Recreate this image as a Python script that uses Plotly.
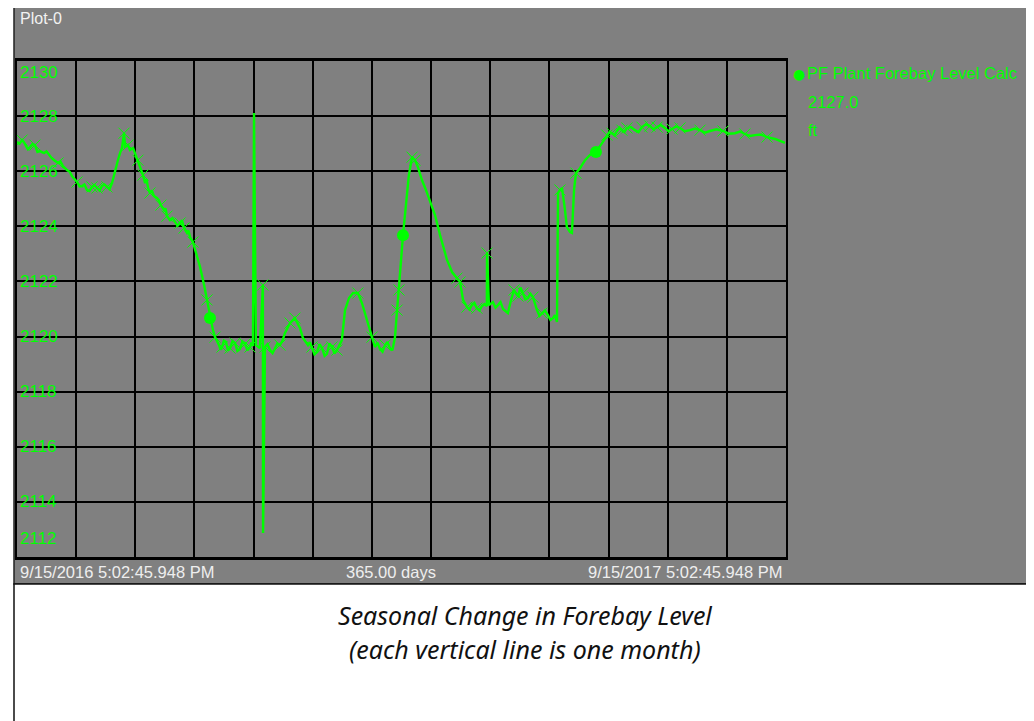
import plotly.graph_objects as go

# ---------------- data ----------------
days = [0.0, 2.4, 4.3, 6.2, 8.5, 10.9, 12.8, 15.2, 17.6, 19.5, 21.8, 23.7, 26.1, 28.5, 30.9, 33.2,
        35.6, 38.0, 40.3, 42.7, 45.1, 46.5, 47.9, 48.9, 49.8, 50.8, 51.3, 52.7, 53.6, 55.1, 56.0,
        57.4, 58.4, 59.8, 60.8, 62.2, 63.1, 65.0, 66.4, 68.3, 69.8, 71.2, 72.6, 75.0, 77.4, 79.3,
        80.7, 82.1, 83.5, 85.4, 86.9, 88.8, 90.2, 91.6, 93.0, 94.0, 95.9, 97.3, 99.2, 101.1, 103.5,
        105.8, 108.2, 110.6, 112.0, 112.5, 113.4, 115.3, 116.7, 116.8, 117.7, 120.1, 122.5, 124.8,
        127.2, 129.6, 131.9, 134.3, 135.7, 138.1, 140.0, 142.4, 144.8, 147.1, 149.5, 151.9, 154.2,
        155.7, 157.6, 159.5, 161.8, 163.7, 165.2, 167.1, 168.5, 169.9, 172.3, 174.7, 177.0, 179.4,
        180.4, 181.3, 182.3, 183.2, 184.6, 186.0, 187.5, 188.9, 190.3, 192.2, 194.1, 196.0, 198.4,
        200.8, 202.7, 204.1, 206.5, 208.8, 210.3, 211.7, 213.6, 215.9, 218.3, 220.7, 223.0, 223.1,
        224.0, 225.9, 228.3, 230.7, 233.0, 234.5, 235.9, 237.8, 240.2, 242.5, 244.9, 246.8, 249.2,
        252.0, 254.4, 256.3, 256.8, 257.7, 258.7, 260.1, 261.0, 262.5, 263.4, 264.4, 265.3, 267.2,
        269.6, 272.0, 274.8, 277.7, 280.0, 282.4, 284.8, 287.1, 289.5, 293.3, 296.6, 300.4, 303.8,
        307.5, 310.9, 314.7, 319.4, 324.2, 328.9, 335.1, 340.8, 345.5, 350.3, 356.0, 359.8, 364.5]

level_ft = [2127.06, 2127.13, 2126.91, 2126.88, 2126.95, 2126.73, 2126.66, 2126.59, 2126.40, 2126.30,
            2126.19, 2126.04, 2125.82, 2125.61, 2125.46, 2125.32, 2125.43, 2125.39, 2125.46, 2125.43,
            2125.57, 2126.04, 2126.40, 2126.66, 2126.84, 2127.38, 2126.88, 2126.95, 2126.77, 2126.84,
            2126.66, 2126.40, 2126.15, 2125.86, 2125.57, 2125.39, 2125.21, 2125.10, 2125.03, 2124.77,
            2124.59, 2124.37, 2124.23, 2124.16, 2124.12, 2123.94, 2123.76, 2123.61, 2123.43, 2122.96,
            2122.52, 2121.87, 2121.33, 2120.67, 2120.24, 2119.98, 2119.69, 2119.62, 2119.80, 2119.58,
            2119.76, 2119.55, 2119.73, 2119.62, 2119.66, 2128.11, 2119.69, 2119.58, 2121.87, 2112.87,
            2119.62, 2119.51, 2119.58, 2119.69, 2120.13, 2120.49, 2120.67, 2120.31, 2119.95, 2119.69,
            2119.62, 2119.44, 2119.58, 2119.37, 2119.62, 2119.51, 2119.87, 2120.96, 2121.40, 2121.58,
            2121.58, 2121.22, 2120.85, 2120.31, 2119.98, 2119.62, 2119.55, 2119.69, 2119.58, 2119.98,
            2120.96, 2121.69, 2122.78, 2123.68, 2124.77, 2125.86, 2126.51, 2126.40, 2126.15, 2125.68,
            2125.32, 2124.95, 2124.41, 2123.68, 2123.14, 2122.78, 2122.34, 2122.12, 2121.98, 2121.33,
            2121.07, 2121.14, 2121.03, 2121.11, 2121.11, 2123.03, 2121.14, 2121.25, 2121.14, 2121.00,
            2120.85, 2121.33, 2121.69, 2121.47, 2121.58, 2121.40, 2121.43, 2120.96, 2120.85, 2120.78,
            2120.67, 2120.53, 2125.21, 2125.32, 2125.39, 2124.59, 2123.97, 2123.79, 2123.76, 2125.32,
            2125.93, 2126.11, 2126.40, 2126.59, 2126.70, 2127.02, 2127.31, 2127.38, 2127.46, 2127.49,
            2127.57, 2127.49, 2127.60, 2127.64, 2127.60, 2127.57, 2127.53, 2127.57, 2127.49, 2127.49,
            2127.46, 2127.46, 2127.38, 2127.35, 2127.31, 2127.24, 2127.17, 2127.03]

# extra readings of the noisy stretches (between the main readings)
detail_days = [1.2, 3.3, 5.2, 7.3, 9.7, 14.0, 16.4, 20.6, 25.0, 29.7, 32.0, 34.4, 36.8, 39.2, 41.5, 43.9,
               61.5, 64.0, 67.3, 70.5, 73.8, 76.2, 78.3, 81.4,
               96.6, 98.2, 100.1, 102.3, 104.6, 107.0, 109.4, 111.3,
               118.9, 121.3, 123.6, 126.0,
               139.0, 141.2, 143.6, 146.0, 148.3, 150.7, 153.0,
               171.1, 173.5, 175.8, 178.2,
               214.7, 217.1, 219.5, 221.9, 227.1, 229.5, 231.8, 236.9, 239.0, 241.3, 243.7, 245.8,
               248.0, 250.6, 253.2, 255.3,
               281.2, 283.6, 286.0, 288.3, 291.4, 295.0, 298.5, 302.1, 305.6, 309.2, 312.8, 317.0,
               321.8, 326.5, 332.0, 338.0, 343.1, 347.9, 353.1]
detail_level = [2127.00, 2127.05, 2126.80, 2126.98, 2126.70, 2126.72, 2126.48, 2126.36, 2125.98, 2125.45,
                2125.52, 2125.28, 2125.50, 2125.30, 2125.52, 2125.35,
                2125.70, 2125.30, 2124.95, 2124.65, 2124.30, 2124.02, 2124.22, 2123.85,
                2119.52, 2119.85, 2119.49, 2119.84, 2119.48, 2119.82, 2119.50, 2119.78,
                2119.72, 2119.40, 2119.75, 2119.85,
                2119.80, 2119.35, 2119.72, 2119.30, 2119.75, 2119.38, 2119.70,
                2119.78, 2119.45, 2119.80, 2119.50,
                2120.98, 2121.22, 2120.95, 2121.18, 2121.05, 2121.25, 2120.92, 2121.55, 2121.78, 2121.35,
                2121.55, 2121.20, 2120.75, 2120.95, 2120.60, 2120.78,
                2127.42, 2127.30, 2127.58, 2127.42, 2127.60, 2127.42, 2127.70, 2127.52, 2127.68, 2127.45,
                2127.62, 2127.45, 2127.55, 2127.40, 2127.52, 2127.36, 2127.44, 2127.28, 2127.33]

cross_idx = [1, 4, 9, 13, 16, 17, 19, 25, 27, 31, 33, 36, 39, 41, 44, 45, 48, 52, 55, 57, 59, 60, 62,
             63, 68, 70, 73, 75, 76, 80, 82, 84, 85, 90, 94, 97, 100, 101, 106, 107, 117, 118, 120,
             122, 125, 132, 133, 134, 136, 138, 143, 150, 156, 157, 159, 160, 162, 163, 164, 166,
             167, 169, 171, 173, 175]
dot_idx = [53, 103, 154]

y_ticks = [2130, 2128, 2126, 2124, 2122, 2120, 2118, 2116, 2114, 2112]
span_days = 365
n_months = 13
start_label = "9/15/2016 5:02:45.948 PM"
end_label = "9/15/2017 5:02:45.948 PM"
series_name = "PF Plant Forebay Level Calc"
units = "ft"
plot_title = "Plot-0"
caption_lines = ["Seasonal Change in Forebay Level", "(each vertical line is one month)"]

# merge main and detail readings in time order for the trend line
merged = sorted(zip(days + detail_days, level_ft + detail_level), key=lambda p: p[0])
line_days = [p[0] for p in merged]
line_level = [p[1] for p in merged]

# ---------------- styling ----------------
GREEN = "#00ff00"
GRAY = "#808080"
FONT = "Liberation Sans, Arial, sans-serif"

OFF = 8                      # page body margin
W, H = 1034 - OFF, 721 - OFF
L, R, T, B = 17 - OFF, (1034 - 786), 61 - OFF, (721 - 557)
pw, ph = W - L - R, H - T - B


def px_x(page_px):
    return (page_px - OFF - L) / pw


def px_y(page_py):
    return (H - B - (page_py - OFF)) / ph


fig = go.Figure()

fig.add_trace(go.Scatter(
    x=line_days, y=line_level, mode="lines",
    line=dict(color=GREEN, width=2.4),
    showlegend=False, hoverinfo="skip"))

fig.add_trace(go.Scatter(
    x=[days[i] for i in cross_idx], y=[level_ft[i] for i in cross_idx], mode="markers",
    marker=dict(symbol="x-thin-open", size=11, color=GREEN, line=dict(color=GREEN, width=1)),
    showlegend=False, hoverinfo="skip"))

fig.add_trace(go.Scatter(
    x=[days[i] for i in dot_idx], y=[level_ft[i] for i in dot_idx], mode="markers",
    marker=dict(symbol="circle", size=12, color=GREEN),
    showlegend=False, hoverinfo="skip"))

shapes = [
    dict(type="rect", xref="paper", yref="paper", layer="below",
         x0=px_x(14), x1=px_x(1045), y0=px_y(584), y1=px_y(5),
         fillcolor=GRAY, line=dict(color="#222", width=1.5)),
    dict(type="rect", xref="paper", yref="paper", layer="below",
         x0=px_x(14), x1=px_x(1030), y0=px_y(740), y1=px_y(584),
         fillcolor="white", line=dict(color="#111", width=1.5)),
]

annotations = []
annotations.append(dict(text=plot_title, xref="paper", yref="paper", x=px_x(18), y=px_y(19),
                        xanchor="left", yanchor="middle", showarrow=False,
                        font=dict(family=FONT, size=16, color="#f2f2f2")))

for v in y_ticks:
    shift = 0
    if v == max(y_ticks):
        shift = -11
    elif v == min(y_ticks):
        shift = 19
    annotations.append(dict(text=str(v), xref="paper", yref="y", x=px_x(18), y=v, yshift=shift,
                            xanchor="left", yanchor="middle", showarrow=False,
                            font=dict(family=FONT, size=17, color=GREEN)))

annotations.append(dict(text="\u25CF", xref="paper", yref="paper", x=px_x(799), y=px_y(74),
                        xanchor="center", yanchor="middle", showarrow=False,
                        font=dict(family="DejaVu Sans", size=14, color=GREEN)))
annotations.append(dict(text=series_name, xref="paper", yref="paper", x=px_x(805), y=px_y(73),
                        xanchor="left", yanchor="middle", showarrow=False,
                        font=dict(family=FONT, size=16.5, color=GREEN)))
annotations.append(dict(text=f"{level_ft[-1]:.1f}", xref="paper", yref="paper", x=px_x(806), y=px_y(102),
                        xanchor="left", yanchor="middle", showarrow=False,
                        font=dict(family=FONT, size=16.5, color=GREEN)))
annotations.append(dict(text=units, xref="paper", yref="paper", x=px_x(806), y=px_y(130),
                        xanchor="left", yanchor="middle", showarrow=False,
                        font=dict(family=FONT, size=16.5, color=GREEN)))

annotations.append(dict(text=start_label, xref="paper", yref="paper", x=px_x(18), y=px_y(572),
                        xanchor="left", yanchor="middle", showarrow=False,
                        font=dict(family=FONT, size=16.5, color="#eeeeee")))
annotations.append(dict(text=f"{span_days:.2f} days", xref="paper", yref="paper", x=px_x(391), y=px_y(572),
                        xanchor="center", yanchor="middle", showarrow=False,
                        font=dict(family=FONT, size=16.5, color="#eeeeee")))
annotations.append(dict(text=end_label, xref="paper", yref="paper", x=px_x(785), y=px_y(572),
                        xanchor="right", yanchor="middle", showarrow=False,
                        font=dict(family=FONT, size=16.5, color="#eeeeee")))

for i, line in enumerate(caption_lines):
    annotations.append(dict(text=f"<i>{line}</i>", xref="paper", yref="paper", x=px_x(525),
                            y=px_y(615 + 34 * i), xanchor="center", yanchor="middle", showarrow=False,
                            font=dict(family="Noto Sans, Open Sans, sans-serif", size=25, color="#111")))

fig.update_layout(
    width=W, height=H,
    margin=dict(l=L, r=R, t=T, b=B, pad=0),
    paper_bgcolor="white",
    plot_bgcolor=GRAY,
    shapes=shapes,
    annotations=annotations,
    showlegend=False,
    xaxis=dict(range=[0, span_days], tick0=0, dtick=span_days / n_months, showticklabels=False,
               ticks="", showgrid=True, gridcolor="#000", gridwidth=1.6, zeroline=False,
               showline=True, mirror=True, linecolor="#000", linewidth=2.5),
    yaxis=dict(range=[min(y_ticks), max(y_ticks)], tick0=min(y_ticks), dtick=2, showticklabels=False,
               ticks="", showgrid=True, gridcolor="#000", gridwidth=1.6, zeroline=False,
               showline=True, mirror=True, linecolor="#000", linewidth=2),
)

fig.write_html("out.html")
